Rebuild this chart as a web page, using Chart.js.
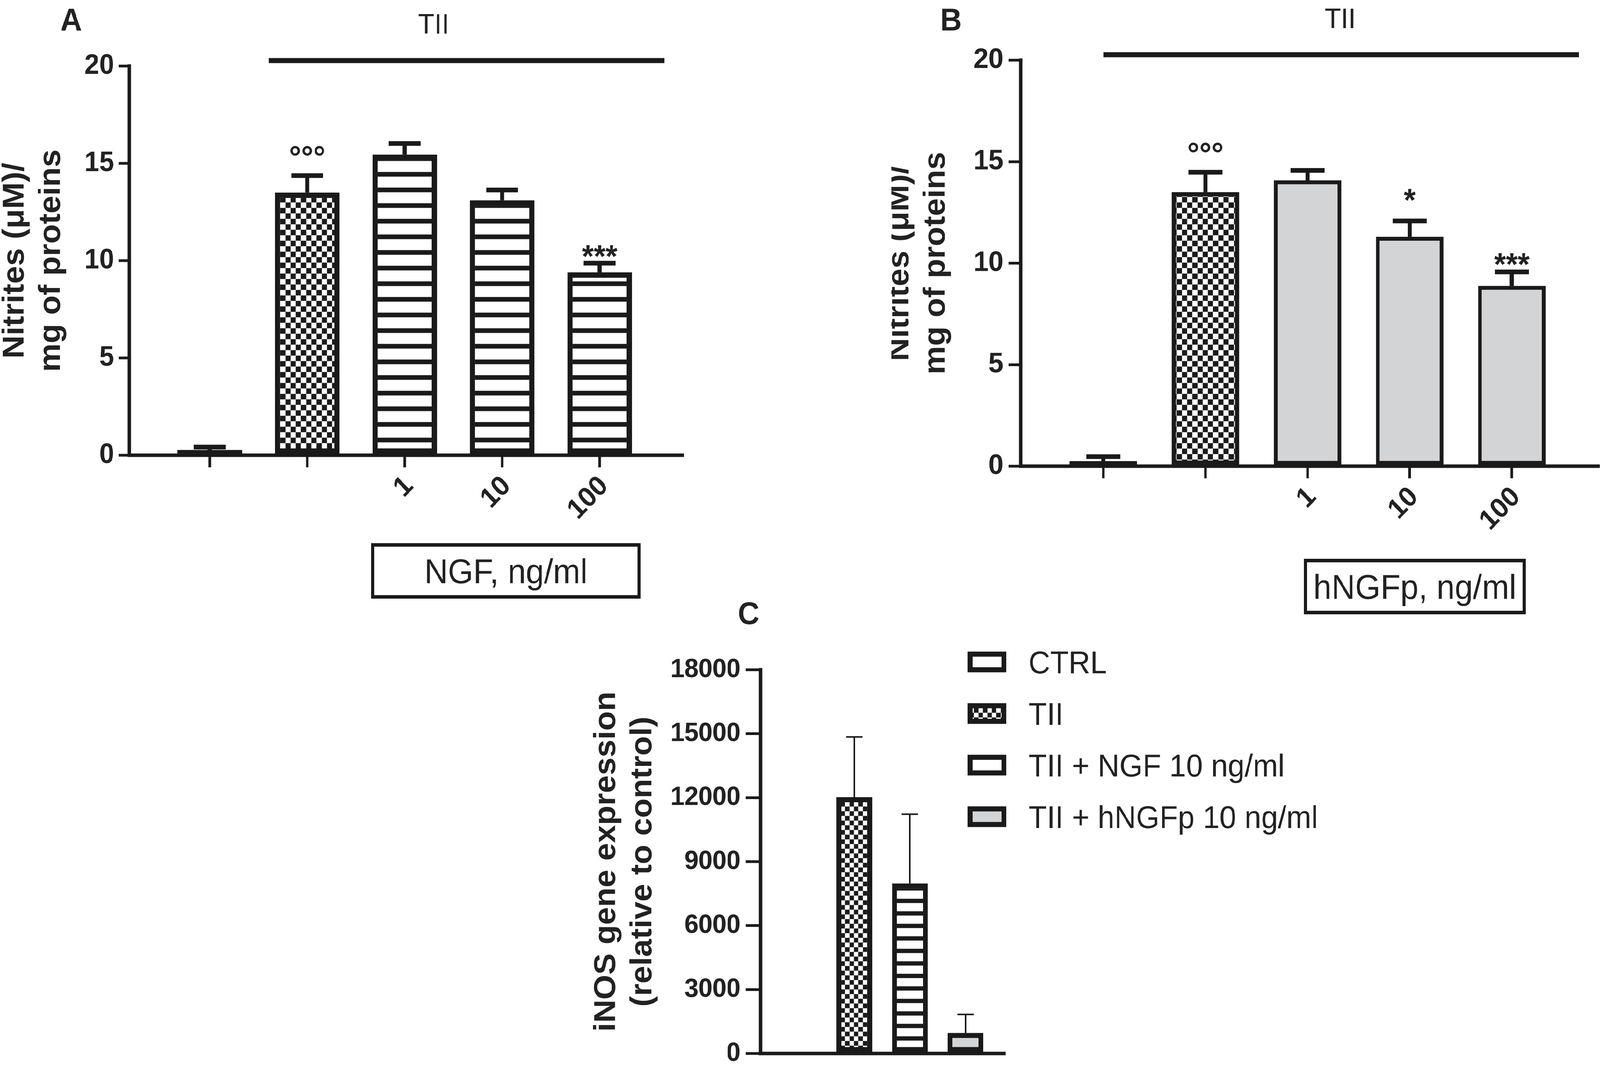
<!DOCTYPE html>
<html>
<head>
<meta charset="utf-8">
<script src="https://cdn.jsdelivr.net/npm/chart.js@4.4.1/dist/chart.umd.min.js"></script>
<style>
html,body{margin:0;padding:0;background:#ffffff;overflow:hidden;}
#root{position:absolute;left:0;top:0;width:4317px;height:2728px;transform-origin:0 0;background:#ffffff;overflow:hidden;}
canvas{position:absolute;}
</style>
</head>
<body>
<div id="root">
<canvas id="cA" style="left:0px;top:0px;width:1900px;height:1560px"></canvas>
<canvas id="cB" style="left:2405px;top:0px;width:1912px;height:1600px"></canvas>
<canvas id="cC" style="left:1500px;top:1500px;width:2200px;height:1270px"></canvas>
</div>
<script>
// ---------------- DATA ----------------
// Panel A : nitrites, NGF
const groupsA   = ['CTRL', 'TII', 'TII + NGF 1 ng/ml', 'TII + NGF 10 ng/ml', 'TII + NGF 100 ng/ml'];
const doseTicksA = ['', '', '1', '10', '100'];
const nitritesA = [0.27, 13.5, 15.45, 13.1, 9.4];
const semA      = [0.15, 0.87, 0.57, 0.53, 0.47];
const signifA   = ['', '°°°', '', '', '***'];

// Panel B : nitrites, hNGFp
const groupsB   = ['CTRL', 'TII', 'TII + hNGFp 1 ng/ml', 'TII + hNGFp 10 ng/ml', 'TII + hNGFp 100 ng/ml'];
const doseTicksB = ['', '', '1', '10', '100'];
const nitritesB = [0.25, 13.5, 14.08, 11.3, 8.88];
const semB      = [0.22, 0.98, 0.49, 0.78, 0.69];
const signifB   = ['', '°°°', '', '*', '***'];

// Panel C : iNOS gene expression
const groupsC = ['CTRL', 'TII', 'TII + NGF 10 ng/ml', 'TII + hNGFp 10 ng/ml'];
const inosC   = [1, 12025, 7975, 965];
const semC    = [0, 2825, 3250, 867];

// axis tick values
const yTicksAB = [0, 5, 10, 15, 20];
const yTicksC  = [0, 3000, 6000, 9000, 12000, 15000, 18000];

// ---------------- FIT PAGE TO VIEWPORT ----------------
(function () {
  const sx = window.innerWidth / 4317, sy = window.innerHeight / 2728;
  document.getElementById('root').style.transform = 'scale(' + sx + ',' + sy + ')';
})();

// ---------------- STYLE ----------------
const INK = '#1a1a1a', TXT = '#222222', WHITE = '#ffffff', GREY = '#d3d4d6';
const FONT = "'Liberation Sans', Arial, Helvetica, sans-serif";
const DPR = 2;

function checker(sq) {
  const c = document.createElement('canvas');
  c.width = c.height = sq * 2;
  const g = c.getContext('2d');
  g.fillStyle = WHITE; g.fillRect(0, 0, sq * 2, sq * 2);
  g.fillStyle = INK; g.fillRect(0, 0, sq, sq); g.fillRect(sq, sq, sq, sq);
  return g.createPattern(c, 'repeat');
}
function stripes(period, dark) {
  const c = document.createElement('canvas');
  c.width = 8; c.height = period;
  const g = c.getContext('2d');
  g.fillStyle = WHITE; g.fillRect(0, 0, 8, period);
  g.fillStyle = INK; g.fillRect(0, 0, 8, dark);
  return g.createPattern(c, 'repeat');
}

// decorations: error bars, significance marks, header bracket, panel letter, boxed caption, legend
const decorPlugin = {
  id: 'decor',
  afterDatasetsDraw(chart, args, o) {
    const ctx = chart.ctx, xs = chart.scales.x, ys = chart.scales.y, area = chart.chartArea;
    const meta = chart.getDatasetMeta(0);
    ctx.save();
    ctx.fillStyle = INK; ctx.strokeStyle = INK;
    if (o.err) {
      const E = o.err;
      meta.data.forEach((bar, i) => {
        const v = E.values[i], e = E.errors[i];
        if (!e) return;
        const top = ys.getPixelForValue(v + e), base = ys.getPixelForValue(v);
        ctx.fillStyle = INK;
        ctx.fillRect(bar.x - E.line / 2, top, E.line, base - top);
        ctx.fillRect(bar.x - E.cap / 2, top - E.capThick / 2, E.cap, E.capThick);
        const m = E.marks ? E.marks[i] : '';
        if (m) {
          ctx.fillStyle = TXT;
          ctx.font = `bold ${E.markSize}px ${FONT}`;
          ctx.textAlign = 'center'; ctx.textBaseline = 'alphabetic';
          ctx.fillText(m, bar.x, top - E.markGap[i] + 0.57 * E.markSize);
        }
      });
    }
    if (o.header) {
      const h = o.header;
      const x1 = xs.getPixelForValue(h.from), x2 = xs.getPixelForValue(h.to);
      ctx.fillStyle = INK;
      ctx.fillRect(x1, area.top - h.lineGap - h.thick / 2, x2 - x1, h.thick);
      ctx.fillStyle = TXT;
      ctx.font = `${h.size}px ${FONT}`;
      ctx.textAlign = 'center'; ctx.textBaseline = 'alphabetic';
      ctx.fillText(h.text, xs.getPixelForValue(h.textAt), area.top - h.textGap);
    }
    if (o.letter) {
      const L = o.letter;
      ctx.fillStyle = TXT;
      ctx.font = `bold ${L.size}px ${FONT}`;
      ctx.textAlign = 'center'; ctx.textBaseline = 'alphabetic';
      ctx.fillText(L.text, L.x, L.y);
    }
    if (o.box) {
      const b = o.box;
      ctx.strokeStyle = INK; ctx.lineWidth = b.lw;
      ctx.strokeRect(b.left + b.lw / 2, b.top + b.lw / 2, b.width - b.lw, b.height - b.lw);
      ctx.fillStyle = TXT;
      ctx.font = `${b.size}px ${FONT}`;
      ctx.textAlign = 'center'; ctx.textBaseline = 'alphabetic';
      ctx.fillText(b.text, b.left + b.width / 2, b.top + b.height / 2 + 0.358 * b.size);
    }
    if (o.legend) {
      const L = o.legend;
      L.labels.forEach((t, i) => {
        const cy = L.top + i * L.step;
        ctx.fillStyle = INK;
        ctx.fillRect(L.x, cy - L.h / 2, L.w, L.h);
        ctx.fillStyle = L.fills[i];
        ctx.fillRect(L.x + L.bw, cy - L.h / 2 + L.bw, L.w - 2 * L.bw, L.h - 2 * L.bw);
        ctx.fillStyle = TXT;
        ctx.font = `${L.size}px ${FONT}`;
        ctx.textAlign = 'left'; ctx.textBaseline = 'alphabetic';
        ctx.fillText(t, L.tx, cy + 0.358 * L.size);
      });
    }
    ctx.restore();
  }
};

function makePanel(id, p) {
  const cv = document.getElementById(id);
  cv.width = p.w; cv.height = p.h;
  const tickFont = { family: FONT, size: p.tickSize, weight: 'bold' };
  return new Chart(cv, {
    type: 'bar',
    data: {
      labels: p.groups,
      datasets: [{
        label: p.label,
        data: p.values.map((v, i) => ({ x: i, y: v })),
        backgroundColor: p.fills,
        borderColor: INK,
        borderWidth: p.bw,
        borderSkipped: false,
        barPercentage: p.barPct,
        categoryPercentage: 1
      }]
    },
    options: {
      responsive: false,
      animation: false,
      devicePixelRatio: DPR,
      layout: { padding: p.padding },
      plugins: {
        legend: { display: false },
        tooltip: { enabled: false },
        decor: p.decor
      },
      scales: {
        x: {
          type: 'linear',
          min: p.xMin, max: p.xMax,
          offset: false,
          afterBuildTicks: s => { s.ticks = p.groups.map((_, i) => ({ value: i })); },
          afterFit: s => { s.height = p.xHeight; },
          ticks: {
            display: !!p.xTicks,
            autoSkip: false,
            minRotation: 45, maxRotation: 45,
            padding: 6,
            labelOffset: 12,
            color: TXT,
            font: tickFont,
            callback: v => (p.xTicks ? (p.xTicks[Math.round(v)] ?? '') : '')
          },
          grid: {
            display: true, offset: false, drawOnChartArea: false,
            drawTicks: !!p.xTicks, tickLength: p.xTickLen || 31,
            tickWidth: 7, lineWidth: 7, color: INK, tickColor: INK
          },
          border: { display: true, color: INK, width: 9 }
        },
        y: {
          min: p.yMin, max: p.yMax,
          afterBuildTicks: s => { s.ticks = p.yTicks.map(v => ({ value: v })); },
          afterFit: s => { s.width = p.yWidth; },
          ticks: { padding: p.yTickPad, color: TXT, font: tickFont, callback: v => String(v) },
          grid: {
            display: true, drawOnChartArea: false, drawTicks: true,
            tickLength: p.yTickLen, tickWidth: 7, lineWidth: 7, color: INK, tickColor: INK
          },
          border: { display: true, color: INK, width: 9 },
          title: {
            display: true,
            text: p.yTitle,
            color: TXT,
            font: { family: FONT, size: 82, weight: 'bold', lineHeight: 1.195 },
            padding: { top: p.titlePad, bottom: 0 }
          }
        }
      }
    },
    plugins: [decorPlugin]
  });
}

// ---------------- PANEL A ----------------
const stripeA = stripes(40, 12);
makePanel('cA', {
  w: 1900, h: 1560,
  label: 'Nitrites', groups: groupsA, values: nitritesA, xTicks: doseTicksA,
  fills: [WHITE, checker(14), stripeA, stripeA, stripeA],
  bw: 14, barPct: 0.662,
  padding: { top: 169, right: 58, bottom: 0, left: 0 },
  xMin: -0.825, xMax: 4.852, xHeight: 1560 - 1165,
  yMin: 0, yMax: 20, yTicks: yTicksAB, yWidth: 349, yTickLen: 29, yTickPad: 12, tickSize: 72,
  yTitle: ['Nitrites (\u03bcM)/', 'mg of proteins'], titlePad: -8,
  decor: {
    err: { values: nitritesA, errors: semA, marks: signifA, markGap: [0, 66, 0, 0, 36], markSize: 82,
           line: 11, cap: 86, capThick: 12 },
    header: { text: 'TII', from: 0.605, to: 4.665, textAt: 2.297, lineGap: 14, thick: 13, textGap: 83, size: 72 },
    letter: { text: 'A', x: 192, y: 78, size: 81 },
    box: { text: 'NGF, ng/ml', left: 1001, top: 1390, width: 728, height: 142, lw: 9, size: 88 }
  }
});

// ---------------- PANEL B ----------------
makePanel('cB', {
  w: 1912, h: 1600,
  label: 'Nitrites', groups: groupsB, values: nitritesB, xTicks: doseTicksB,
  fills: [WHITE, checker(14), GREY, GREY, GREY],
  bw: [14, 11, 10, 10, 10], barPct: 0.66,
  padding: { top: 154, right: 4, bottom: 0, left: 0 },
  xMin: -0.809, xMax: 4.849, xHeight: 1600 - 1193,
  yMin: 0, yMax: 20, yTicks: yTicksAB, yWidth: 349, yTickLen: 33, yTickPad: 14, tickSize: 72,
  yTitle: ['Nitrites (\u03bcM)/', 'mg of proteins'], titlePad: -26,
  decor: {
    err: { values: nitritesB, errors: semB, marks: signifB, markGap: [0, 66, 0, 72, 38], markSize: 82,
           line: 11, cap: 92, capThick: 12 },
    header: { text: 'TII', from: 0.0, to: 4.657, textAt: 2.32, lineGap: 14, thick: 13, textGap: 82, size: 72 },
    letter: { text: 'B', x: 161, y: 78, size: 81 },
    box: { text: 'hNGFp, ng/ml', left: 1113, top: 1430, width: 599, height: 142, lw: 9, size: 88 }
  }
});

// ---------------- PANEL C ----------------
const checkC = checker(12);
makePanel('cC', {
  w: 2200, h: 1270,
  label: 'iNOS', groups: groupsC, values: inosC, xTicks: null,
  fills: [WHITE, checkC, stripes(32, 11), GREY],
  bw: 13, barPct: 0.64,
  padding: { top: 214, right: 2200 - 1210, bottom: 0, left: 0 },
  xMin: -0.687, xMax: 3.7, xHeight: 1270 - 1196,
  yMin: 0, yMax: 18000, yTicks: yTicksC, yWidth: 552, yTickLen: 40, yTickPad: 14, tickSize: 68,
  yTitle: ['iNOS gene expression', '(relative to control)'], titlePad: 88,
  decor: {
    err: { values: inosC, errors: semC, marks: null, markGap: [], markSize: 0,
           line: 4, cap: 44, capThick: 4 },
    letter: { text: 'C', x: 520, y: 97, size: 81 },
    legend: { labels: groupsC, fills: [WHITE, checkC, WHITE, GREY],
              x: 1111, top: 194, step: 132, w: 104, h: 53, bw: 13, tx: 1275, size: 81 }
  }
});
</script>
</body>
</html>
